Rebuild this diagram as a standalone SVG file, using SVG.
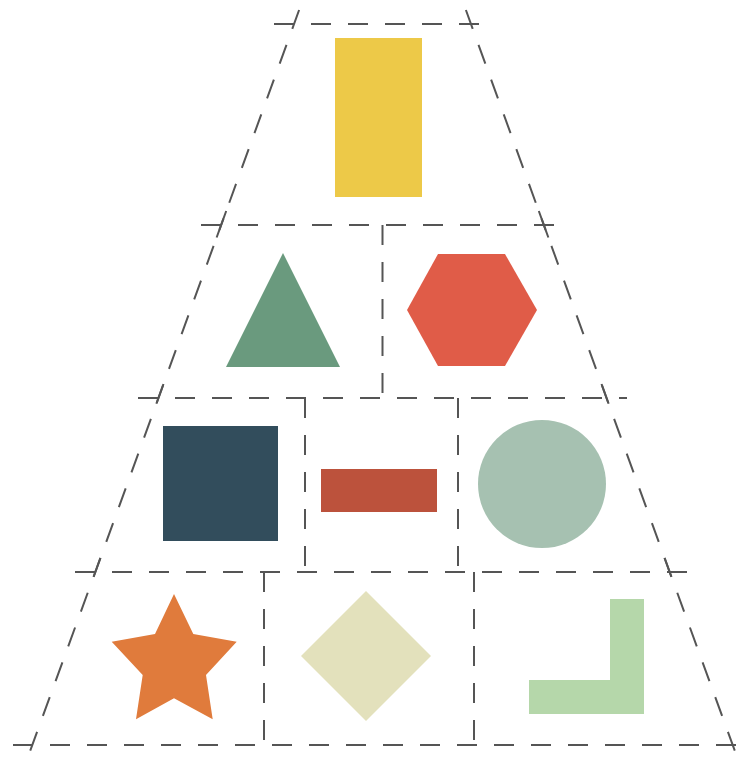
<svg xmlns="http://www.w3.org/2000/svg" width="741" height="765" viewBox="0 0 741 765">
<style>
.d{stroke:#555;stroke-width:2;stroke-dasharray:20 17;fill:none}
</style>
<rect width="741" height="765" fill="#fff"/>
<g id="connectors">
<line class="d" x1="299.1" y1="10" x2="216.1" y2="239"/>
<line class="d" x1="465.9" y1="10" x2="548.9" y2="239"/>
<line class="d" x1="226.2" y1="211" x2="153.4" y2="412"/>
<line class="d" x1="538.8" y1="211" x2="611.6" y2="412"/>
<line class="d" x1="163.5" y1="384" x2="90.3" y2="586"/>
<line class="d" x1="601.5" y1="384" x2="674.7" y2="586"/>
<line class="d" x1="100.4" y1="558" x2="25" y2="765"/>
<line class="d" x1="664.6" y1="558" x2="740" y2="765"/>
<line class="d" x1="274" y1="24" x2="491" y2="24"/>
<line class="d" x1="201" y1="225" x2="564" y2="225"/>
<line class="d" x1="138" y1="398" x2="627" y2="398"/>
<line class="d" x1="75" y1="572" x2="690" y2="572"/>
<line class="d" x1="13" y1="745" x2="741" y2="745"/>
<line class="d" x1="382.5" y1="225" x2="382.5" y2="398"/>
<line class="d" x1="305" y1="398" x2="305" y2="572"/>
<line class="d" x1="458" y1="398" x2="458" y2="572"/>
<line class="d" x1="264" y1="572" x2="264" y2="745"/>
<line class="d" x1="474" y1="572" x2="474" y2="745"/>
</g>
<g id="yellow-rect"><rect x="335" y="38" width="87" height="159" fill="#EDC948"/></g>
<g id="triangle"><polygon points="283,253 340,367 226,367" fill="#6A9A7E"/></g>
<g id="hexagon"><polygon points="407,310 438,254 505,254 537,310 505,366 438,366" fill="#E05C48"/></g>
<g id="square"><rect x="163" y="426" width="115" height="115" fill="#324D5C"/></g>
<g id="red-rect"><rect x="321" y="469" width="116" height="43" fill="#BC523C"/></g>
<g id="circle"><circle cx="542" cy="484" r="64" fill="#A6C1B1"/></g>
<g id="star"><polygon points="174,594 193.3,634 236.7,641.7 206,675 212.7,719.3 174,698.3 136,719.3 142.7,675 111.7,641.7 155,634" fill="#E07B3C"/></g>
<g id="diamond"><polygon points="366,591 431,656 366,721 301,656" fill="#E3E1BC"/></g>
<g id="l-shape"><polygon points="610,599 644,599 644,714 529,714 529,680 610,680" fill="#B5D7AA"/></g>
</svg>
